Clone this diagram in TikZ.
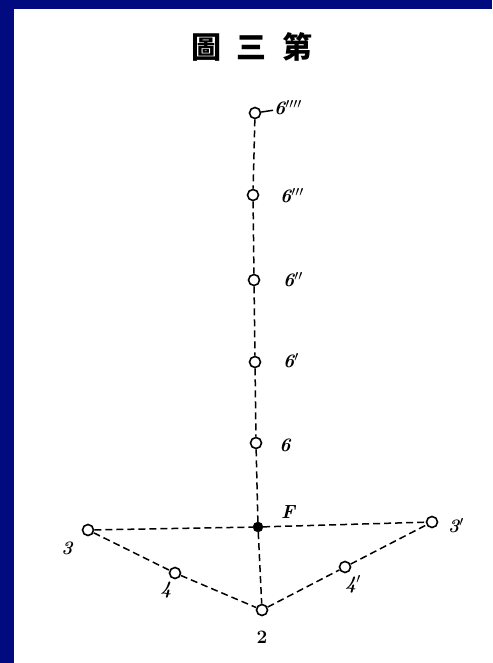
\documentclass[tikz,border=0pt]{standalone}
\usepackage{fontspec}
\newfontfamily\cjk{Noto Sans CJK SC}
\definecolor{navy}{RGB}{2,10,128}
\tikzset{
  pt/.style={circle,draw=black,fill=white,line width=1.6pt,inner sep=0pt,minimum size=11pt},
  fpt/.style={circle,draw=black,fill=black,inner sep=0pt,minimum size=10pt},
  lbl/.style={font=\bfseries\itshape\fontsize{19}{19}\selectfont,inner sep=1pt},
  dl/.style={line width=1.5pt,dash pattern=on 7pt off 4pt}
}
\begin{document}
\begin{tikzpicture}[x=1pt,y=-1pt]
\fill[navy] (0,0) rectangle (492,663);
\fill[white] (14,9) rectangle (492,663);
\useasboundingbox (0,0) rectangle (492,663);
\node[font=\cjk\bfseries\fontsize{30}{30}\selectfont] (title) at (252,47) {圖\hspace{16pt}三\hspace{16pt}第};
\node[pt] (n6d) at (255,113) {};
\node[pt] (n6c) at (253,195) {};
\node[pt] (n6b) at (254,280) {};
\node[pt] (n6a) at (255,362) {};
\node[pt] (n6) at (256,443) {};
\node[fpt] (F) at (258,527) {};
\node[pt] (n3) at (88,530) {};
\node[pt] (n3p) at (432,522) {};
\node[pt] (n4) at (175,573) {};
\node[pt] (n4p) at (345,567) {};
\node[pt] (n2) at (262,610) {};
\node[lbl] (l6d) at (288,108) {6$''''$};
\node[lbl] (l6c) at (292,196) {6$'''$};
\node[lbl] (l6b) at (293,280) {6$''$};
\node[lbl] (l6a) at (291,361) {6$'$};
\node[lbl] (l6) at (285,445) {6};
\node[lbl] (lF) at (288,512) {F};
\node[lbl] (l3) at (67,548) {3};
\node[lbl] (l3p) at (456,526) {3$'$};
\node[lbl] (l4) at (166,590) {4};
\node[lbl] (l4p) at (353,584) {4$'$};
\node[lbl,font=\bfseries\fontsize{19}{19}\selectfont] (l2) at (262,637) {2};
\draw[line width=1.5pt] (n6d) -- (l6d);
\draw[dl] (n6d) -- (n6c) -- (n6b) -- (n6a) -- (n6) -- (F) -- (n2);
\draw[dl] (n3) -- (F) -- (n3p);
\draw[dl] (n3) -- (n4) -- (n2) -- (n4p) -- (n3p);
\end{tikzpicture}
\end{document}
